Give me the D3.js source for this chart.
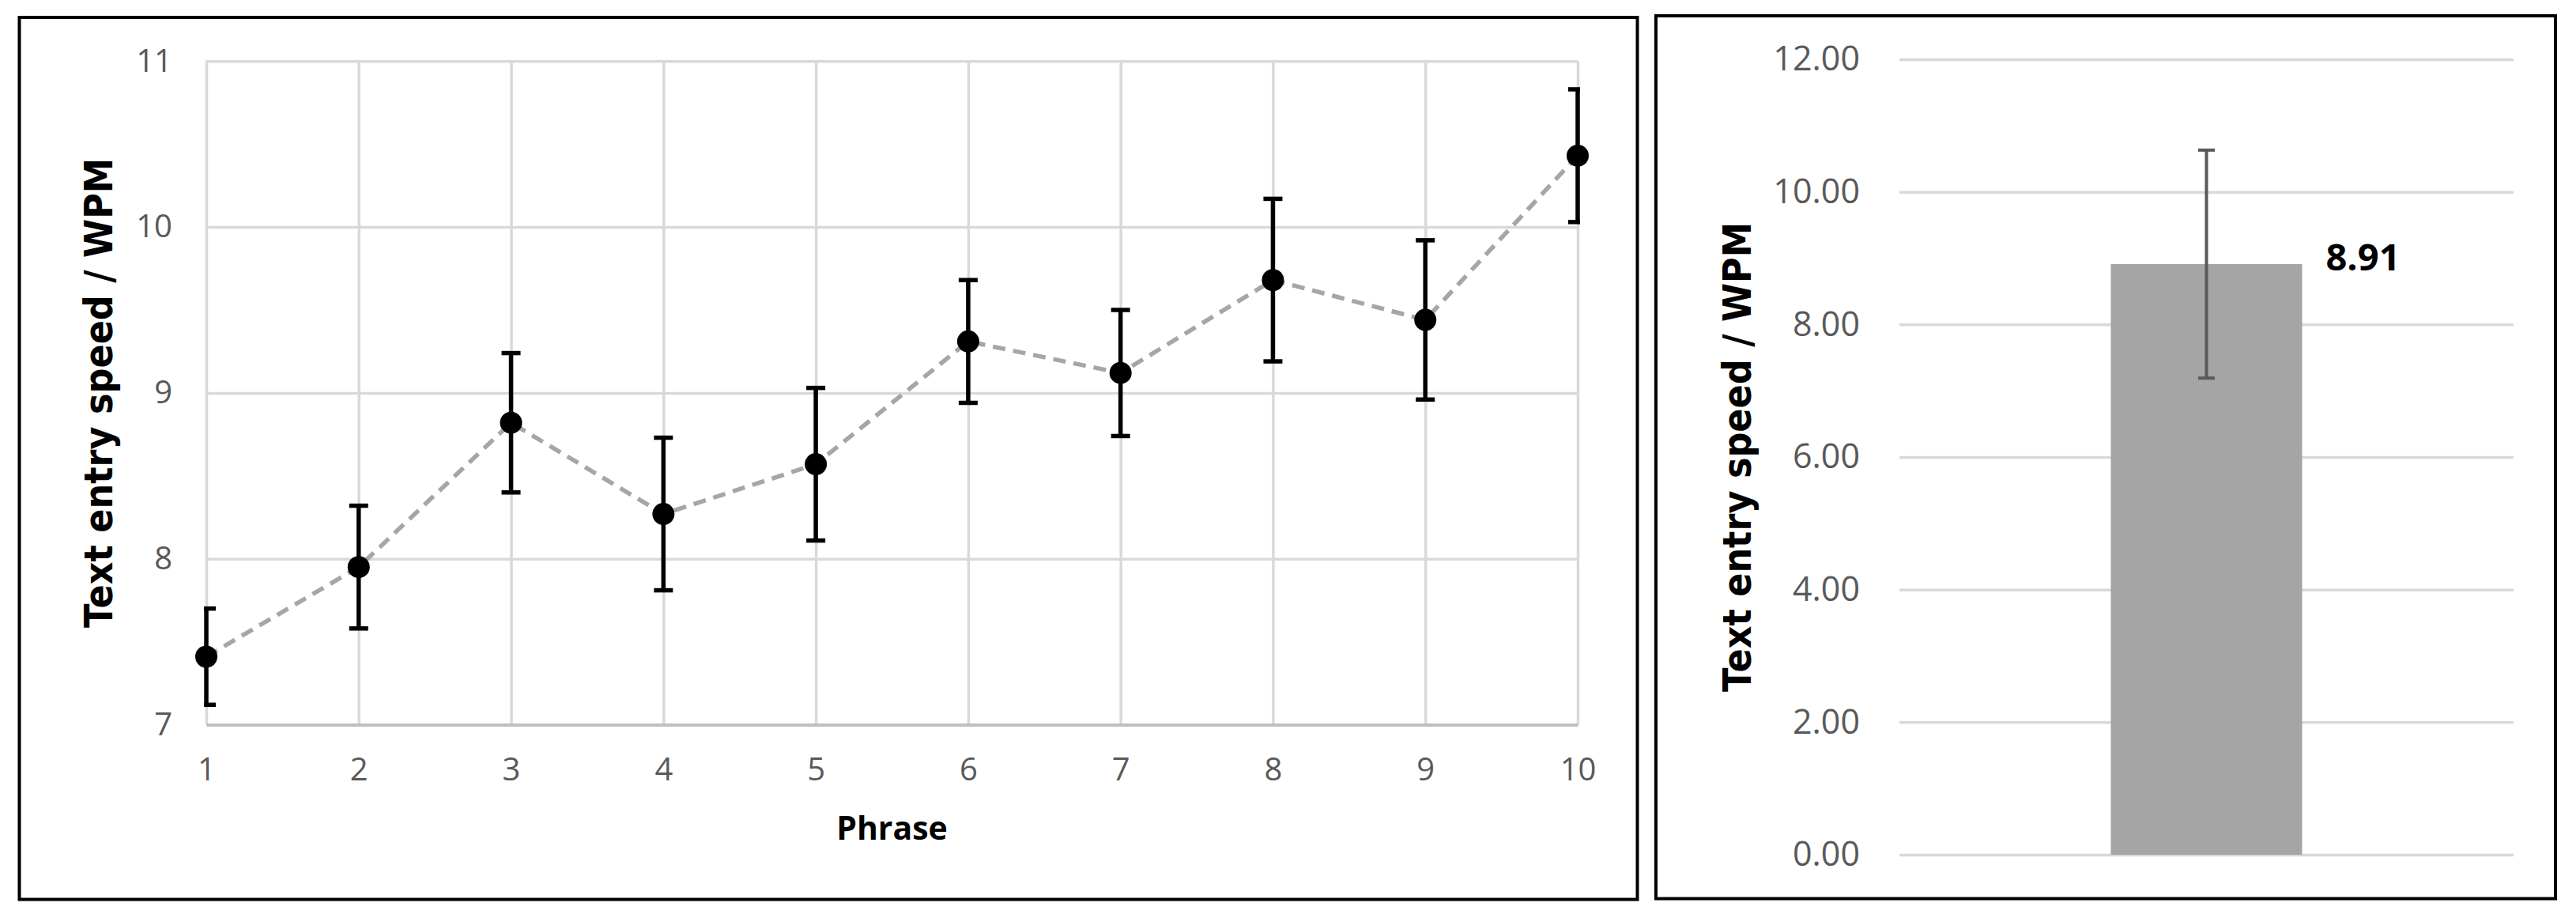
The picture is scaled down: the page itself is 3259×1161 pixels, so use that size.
<!DOCTYPE html>
<html>
<head>
<meta charset="utf-8">
<script src="https://cdn.jsdelivr.net/npm/d3@7"></script>
<style>
  body { margin: 0; background: #fff; }
  .tick text { font-family: "Open Sans", "Liberation Sans", sans-serif; fill: #595959; }
</style>
</head>
<body>
<div id="chart"></div>
<script>
// per-phrase text entry speed (mean and error)
var phrases = [1, 2, 3, 4, 5, 6, 7, 8, 9, 10];
var meanWpm = [7.41, 7.95, 8.82, 8.27, 8.57, 9.31, 9.12, 9.68, 9.44, 10.43];
var errWpm = [0.29, 0.37, 0.42, 0.46, 0.46, 0.37, 0.38, 0.49, 0.48, 0.40];
var leftTicks = [7, 8, 9, 10, 11];

// overall mean
var overallCats = ["Overall"];
var overallMean = [8.91];
var overallErr = [1.72];
var rightTicks = [0, 2, 4, 6, 8, 10, 12];

var W = 3259, H = 1161;
var svg = d3.select("#chart").append("svg")
    .attr("width", W)
    .attr("height", H);

var grid = "#d9d9d9";

// ---------- left panel ----------
svg.append("rect")
    .attr("x", 24.5).attr("y", 22)
    .attr("width", 2047).attr("height", 1115.5)
    .attr("fill", "none").attr("stroke", "#000").attr("stroke-width", 4);

var L = { left: 261, right: 1996, top: 77.3, bottom: 916.5 };

var x = d3.scaleLinear().domain([1, 10]).range([L.left, L.right]);
var y = d3.scaleLinear().domain([7, 11]).range([L.bottom, L.top]);

var gl = svg.append("g");

var yAxis = gl.append("g")
    .attr("transform", "translate(" + L.left + ",0)")
    .call(d3.axisLeft(y).tickValues(leftTicks).tickFormat(d3.format("d"))
        .tickSize(-(L.right - L.left)).tickPadding(43));
yAxis.select(".domain").remove();
yAxis.selectAll(".tick line").attr("stroke", grid).attr("stroke-width", 3.5);
yAxis.selectAll(".tick text").style("font-size", "40px");

var xAxis = gl.append("g")
    .attr("transform", "translate(0," + L.bottom + ")")
    .call(d3.axisBottom(x).tickValues(phrases).tickFormat(d3.format("d"))
        .tickSize(-(L.bottom - L.top)).tickSizeOuter(0).tickPadding(42));
xAxis.selectAll(".tick line").attr("stroke", grid).attr("stroke-width", 3.5);
xAxis.selectAll(".tick text").style("font-size", "40px");
xAxis.select(".domain").attr("stroke", "#bfbfbf").attr("stroke-width", 4).raise();

var pts = phrases.map(function (p, i) {
    return { p: p, m: meanWpm[i], e: errWpm[i] };
});

gl.append("path")
    .datum(pts)
    .attr("fill", "none")
    .attr("stroke", "#a6a6a6")
    .attr("stroke-width", 5.5)
    .attr("stroke-dasharray", "16,10")
    .attr("d", d3.line().x(function (d) { return x(d.p); }).y(function (d) { return y(d.m); }));

svg.append("clipPath").attr("id", "plotclip")
    .append("rect")
    .attr("x", L.left - 3).attr("y", 0)
    .attr("width", L.right - L.left + 6).attr("height", H);

var eb = gl.append("g").attr("clip-path", "url(#plotclip)")
    .attr("stroke", "#000").attr("stroke-width", 5.5);

eb.selectAll(".stem").data(pts).enter().append("line")
    .attr("class", "stem")
    .attr("x1", function (d) { return x(d.p); }).attr("x2", function (d) { return x(d.p); })
    .attr("y1", function (d) { return y(d.m - d.e); }).attr("y2", function (d) { return y(d.m + d.e); });

[-1, 1].forEach(function (s) {
    eb.selectAll(".cap" + s).data(pts).enter().append("line")
        .attr("x1", function (d) { return x(d.p) - 12; }).attr("x2", function (d) { return x(d.p) + 12; })
        .attr("y1", function (d) { return y(d.m + s * d.e); }).attr("y2", function (d) { return y(d.m + s * d.e); });
});

gl.selectAll(".dot").data(pts).enter().append("circle")
    .attr("cx", function (d) { return x(d.p); })
    .attr("cy", function (d) { return y(d.m); })
    .attr("r", 14)
    .attr("fill", "#000");

gl.append("text")
    .attr("x", (L.left + L.right) / 2).attr("y", 1062)
    .attr("text-anchor", "middle")
    .style("font-family", "'Open Sans', 'Liberation Sans', sans-serif")
    .style("font-weight", "bold").style("font-size", "41px")
    .text("Phrase");

gl.append("text")
    .attr("transform", "translate(142," + ((L.top + L.bottom) / 2) + ") rotate(-90)")
    .attr("text-anchor", "middle")
    .attr("textLength", 594).attr("lengthAdjust", "spacingAndGlyphs")
    .style("font-family", "'DejaVu Sans', sans-serif")
    .style("font-weight", "bold").style("font-size", "50px")
    .text("Text entry speed / WPM");

// ---------- right panel ----------
svg.append("rect")
    .attr("x", 2095).attr("y", 20)
    .attr("width", 1138).attr("height", 1116.5)
    .attr("fill", "none").attr("stroke", "#000").attr("stroke-width", 4);

var R = { left: 2403, right: 3180, top: 75, bottom: 1081 };

var xb = d3.scaleBand().domain(overallCats).range([R.left, R.right]).padding(0.525);
var yr = d3.scaleLinear().domain([0, 12]).range([R.bottom, R.top]);

var gr = svg.append("g");

var yrAxis = gr.append("g")
    .attr("transform", "translate(" + R.left + ",0)")
    .call(d3.axisLeft(yr).tickValues(rightTicks).tickFormat(d3.format(".2f"))
        .tickSize(-(R.right - R.left)).tickPadding(50));
yrAxis.select(".domain").remove();
yrAxis.selectAll(".tick line").attr("stroke", grid).attr("stroke-width", 3.5);
yrAxis.selectAll(".tick text").style("font-size", "43px");

var bars = overallCats.map(function (c, i) {
    return { c: c, m: overallMean[i], e: overallErr[i] };
});

gr.selectAll(".bar").data(bars).enter().append("rect")
    .attr("x", function (d) { return xb(d.c); })
    .attr("width", xb.bandwidth())
    .attr("y", function (d) { return yr(d.m); })
    .attr("height", function (d) { return yr(0) - yr(d.m); })
    .attr("fill", "#a5a5a5");

var ebr = gr.append("g").attr("stroke", "#595959").attr("stroke-width", 4);
bars.forEach(function (d) {
    var cx = xb(d.c) + xb.bandwidth() / 2;
    ebr.append("line").attr("x1", cx).attr("x2", cx)
        .attr("y1", yr(d.m - d.e)).attr("y2", yr(d.m + d.e));
    [-1, 1].forEach(function (s) {
        ebr.append("line").attr("x1", cx - 10.5).attr("x2", cx + 10.5)
            .attr("y1", yr(d.m + s * d.e)).attr("y2", yr(d.m + s * d.e));
    });
});

gr.selectAll(".lbl").data(bars).enter().append("text")
    .attr("x", function (d) { return xb(d.c) + xb.bandwidth() + 30; })
    .attr("y", function (d) { return yr(d.m) + 8; })
    .style("font-family", "'Open Sans', 'Liberation Sans', sans-serif")
    .style("font-weight", "bold").style("font-size", "47px")
    .text(function (d) { return d3.format(".2f")(d.m); });

gr.append("text")
    .attr("transform", "translate(2215," + ((R.top + R.bottom) / 2) + ") rotate(-90)")
    .attr("text-anchor", "middle")
    .attr("textLength", 594).attr("lengthAdjust", "spacingAndGlyphs")
    .style("font-family", "'DejaVu Sans', sans-serif")
    .style("font-weight", "bold").style("font-size", "50px")
    .text("Text entry speed / WPM");
</script>
</body>
</html>
